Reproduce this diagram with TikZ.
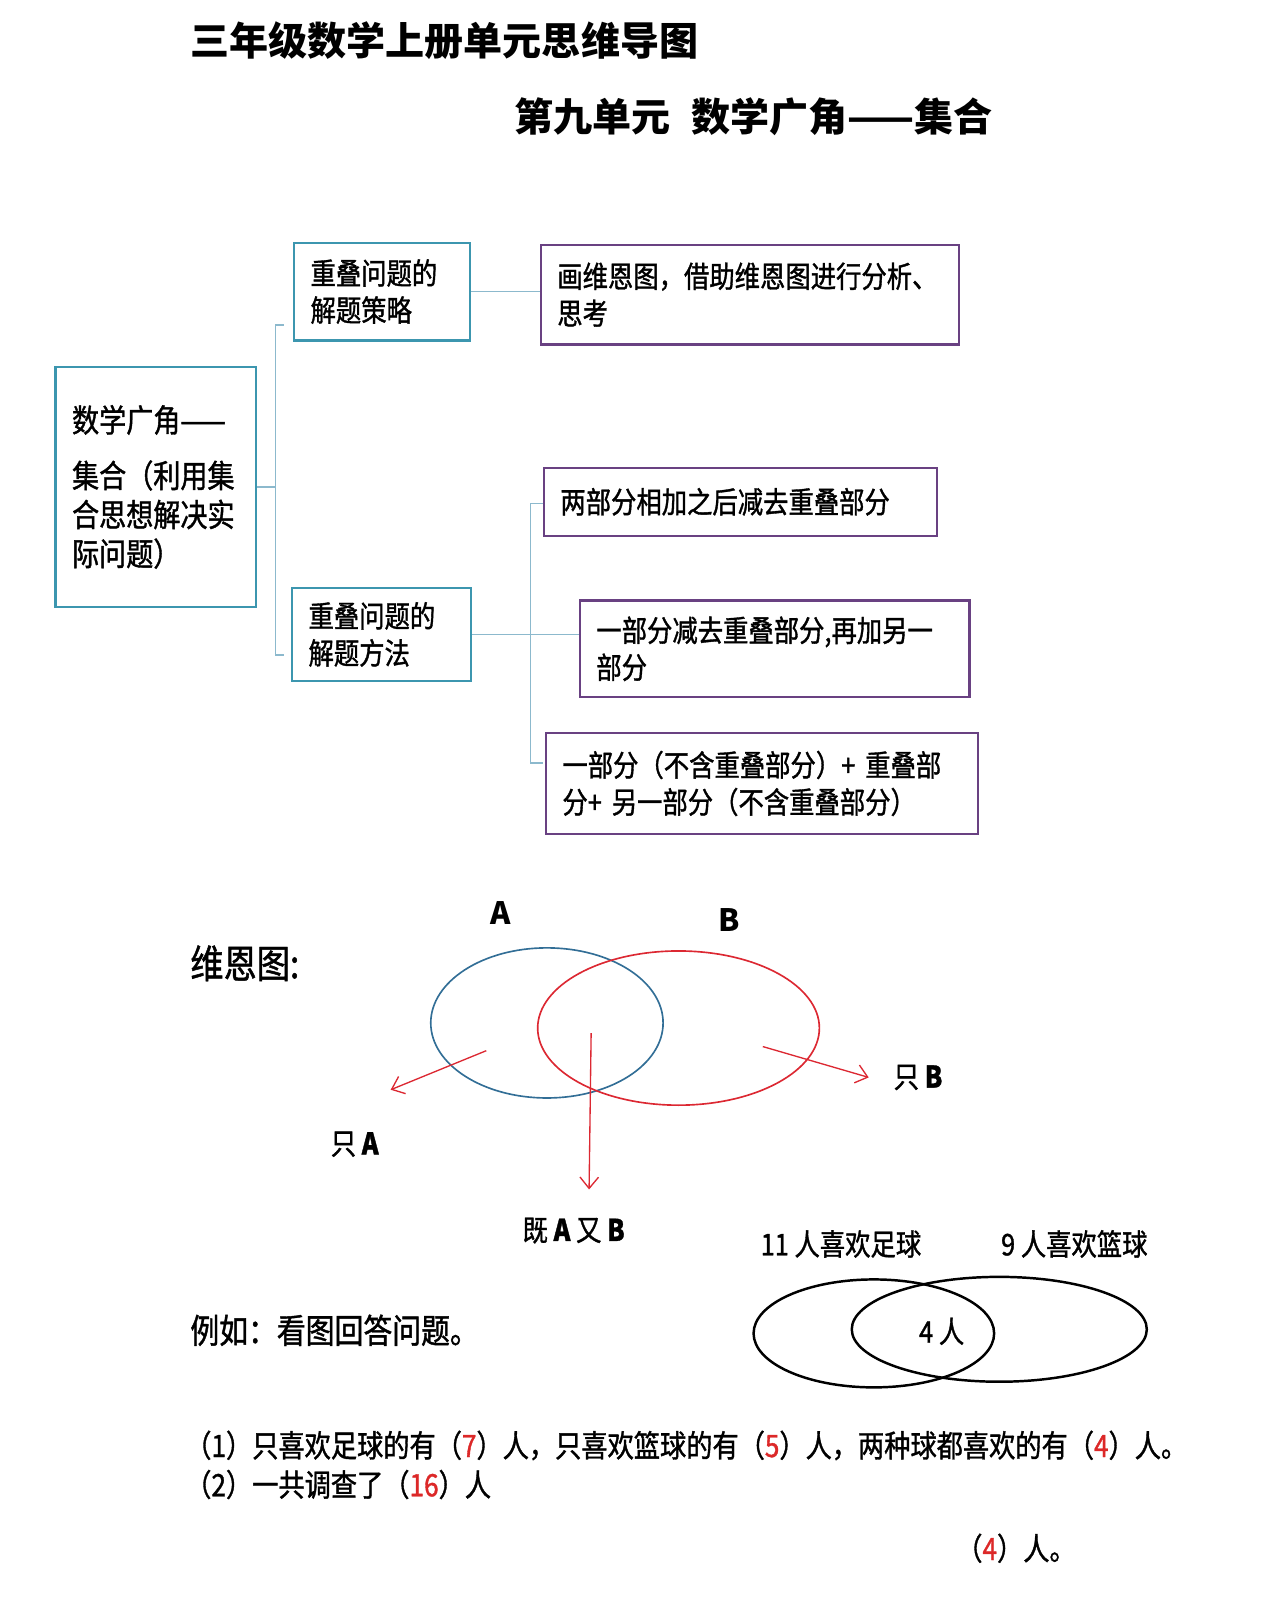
\documentclass[tikz,border=0pt]{standalone}
\usepackage{fontspec}
\usepackage{tikz}
\usetikzlibrary{arrows.meta,shapes.geometric,positioning}
\newfontfamily\cjk[FakeStretch=0.85,FakeBold=1.2]{Noto Sans CJK SC}
\newfontfamily\cjkh{Noto Sans CJK SC}
\definecolor{boxteal}{RGB}{60,150,175}
\definecolor{boxpurple}{RGB}{105,65,130}
\definecolor{linkblue}{RGB}{140,185,205}
\definecolor{vennblue}{RGB}{50,110,150}
\definecolor{vennred}{RGB}{220,40,50}
\definecolor{ansred}{RGB}{220,40,40}
\newcommand{\redans}[1]{\textcolor{ansred}{#1}}

\begin{document}
\begin{tikzpicture}[x=1pt,y=-1pt,font=\cjk,
  tealbox/.style={draw=boxteal,line width=2.2,anchor=north west,align=left,inner xsep=16,inner ysep=0,font=\cjk\fontsize{29}{36}\selectfont},
  purplebox/.style={tealbox,draw=boxpurple},
  linkline/.style={draw=linkblue,line width=1.4},
  vennset/.style={ellipse,inner sep=0,line width=1.6},
  exset/.style={ellipse,draw=black,inner sep=0,line width=2.4},
  redarrow/.style={draw=vennred,line width=1.3,-{Straight Barb[length=11,width=18]}},
  lbl/.style={inner sep=0,font=\cjk\fontsize{29}{36}\selectfont},
  setlbl/.style={inner sep=0,font=\cjkh\bfseries\fontsize{30}{34}\selectfont}]
\useasboundingbox (0,0) rectangle (1245,1568);

% titles
\node[anchor=west,inner sep=0,font=\cjkh\bfseries\fontsize{38}{44}\selectfont] (T1) at (185,40) {三年级数学上册单元思维导图};
\node[anchor=west,inner sep=0,font=\cjkh\bfseries\fontsize{38}{44}\selectfont] (T2) at (500,114) {第九单元\hspace{20pt}数学广角——集合};

% mind map
\node[tealbox,minimum width=195,minimum height=233,text width=163,font=\cjk\fontsize{31}{38}\selectfont] (M) at (53,356) {数学广角——\\[16pt]集合（利用集\\合思想解决实\\际问题）};
\node[tealbox,minimum width=171,minimum height=95,text width=139] (S1) at (285,235) {重叠问题的\\解题策略};
\node[purplebox,minimum width=407,minimum height=97,text width=375] (S1a) at (525,237) {画维恩图，借助维恩图进行分析、\\思考};
\node[tealbox,minimum width=174,minimum height=90,text width=142] (S2) at (283,571) {重叠问题的\\解题方法};
\node[purplebox,minimum width=382,minimum height=66,text width=350] (S2a) at (528,454) {两部分相加之后减去重叠部分};
\node[purplebox,minimum width=379,minimum height=94,text width=347] (S2b) at (563,583) {一部分减去重叠部分,再加另一\\部分};
\node[purplebox,minimum width=420,minimum height=98,text width=388] (S2c) at (530,712) {一部分（不含重叠部分）+ 重叠部\\分+ 另一部分（不含重叠部分）};

\coordinate (K1) at (268,476);
\coordinate (K1t) at (276,316);
\coordinate (K1b) at (276,637);
\coordinate (K2t) at (528,490);
\coordinate (K2b) at (528,742);
\draw[linkline] (M.east) -- (M.east -| K1);
\draw[linkline] (K1t) -- ++(-8,0) |- (K1b);
\draw[linkline] (S1.east) -- (S1.east -| S1a.west);
\draw[linkline] (S2.east) -- (S2.east -| S2b.west);
\draw[linkline] (K2t) -- ++(-12,0) |- (K2b);

% venn
\node[anchor=west,inner sep=0,font=\cjk\fontsize{38}{42}\selectfont] (VT) at (185,937) {维恩图:};
\node[vennset,draw=vennblue,minimum width=226,minimum height=146] (SA) at (532,995) {};
\node[vennset,draw=vennred,minimum width=274,minimum height=150] (SB) at (660,1000) {};
\node[setlbl] (LA) at (487,888) {A};
\node[setlbl] (LB) at (709,895) {B};

\coordinate (PA) at (473,1022);
\coordinate (QA) at (380,1060);
\coordinate (PC) at (575,1005);
\coordinate (QC) at (573,1157);
\coordinate (PB) at (742,1018);
\coordinate (QB) at (845,1048);
\draw[redarrow] (PA) -- (QA);
\draw[redarrow] (PC) -- (QC);
\draw[redarrow] (PB) -- (QB);
\node[lbl] (OA) at (345,1113) {只 {\bfseries A}};
\node[lbl] (OB) at (893,1048) {只 {\bfseries B}};
\node[lbl] (OC) at (558,1197) {既 {\bfseries A} 又 {\bfseries B}};

% example
\node[lbl,anchor=west,font=\cjk\fontsize{33}{38}\selectfont] (EX) at (185,1294) {例如：看图回答问题。};
\node[exset,minimum width=234,minimum height=105] (E1) at (850,1297) {};
\node[exset,minimum width=287,minimum height=102] (E2) at (972,1293) {};
\node[lbl] (N4) at (916,1295) {4 人};
\node[lbl] (NF) at (818,1210) {11 人喜欢足球};
\node[lbl] (NB) at (1045,1210) {9 人喜欢篮球};

\node[lbl,anchor=west,font=\cjk\fontsize{30}{38}\selectfont] (Q1) at (180,1406) {（1）只喜欢足球的有（\redans{7}）人，只喜欢篮球的有（\redans{5}）人，两种球都喜欢的有（\redans{4}）人。};
\node[lbl,anchor=west,font=\cjk\fontsize{30}{38}\selectfont] (Q2) at (180,1444) {（2）一共调查了（\redans{16}）人};
\node[lbl,anchor=west,font=\cjk\fontsize{30}{38}\selectfont] (Q3) at (930,1506) {（\redans{4}）人。};
\end{tikzpicture}
\end{document}
